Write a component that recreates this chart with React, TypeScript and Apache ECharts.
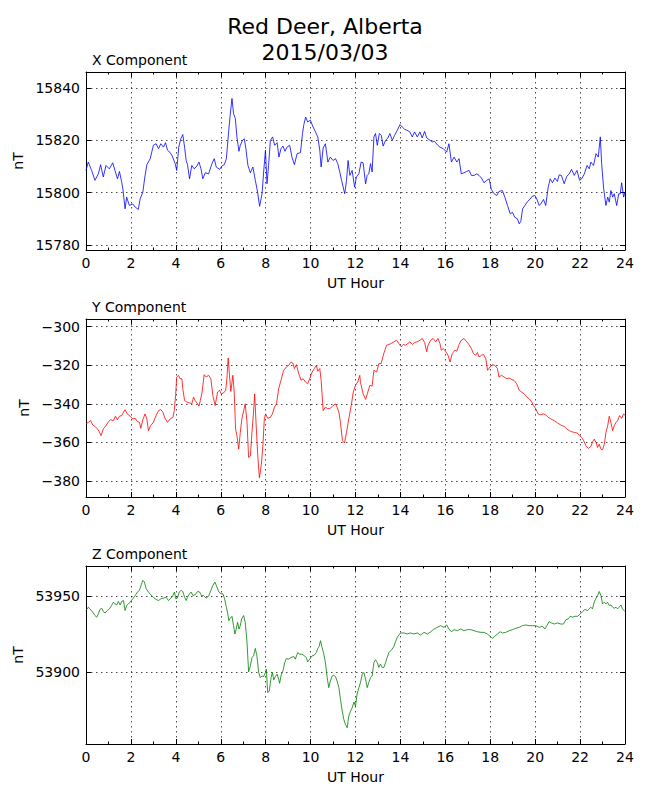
import React, { useEffect, useRef } from "react";
import * as echarts from "echarts";

// [UT hour, nT] readings
const xComponent: [number, number][] = [
  [0.0, 15808.5], [0.1, 15811.7], [0.25, 15808.5], [0.4, 15804.7], [0.55, 15807.2], [0.65, 15810.7], [0.77, 15806.0], [0.89, 15810.4],
  [1.04, 15809.1], [1.19, 15811.4], [1.29, 15808.5], [1.4, 15805.3], [1.49, 15808.1], [1.59, 15804.0], [1.64, 15801.5], [1.74, 15793.8],
  [1.81, 15798.3], [1.93, 15795.1], [2.08, 15795.7], [2.19, 15794.5], [2.33, 15793.6], [2.41, 15797.6], [2.53, 15800.2], [2.63, 15806.6],
  [2.71, 15810.7], [2.86, 15813.0], [3.0, 15818.1], [3.12, 15818.7], [3.23, 15816.8], [3.33, 15818.7], [3.45, 15817.4], [3.54, 15819.1],
  [3.63, 15816.2], [3.75, 15815.3], [3.84, 15814.0], [3.97, 15811.1], [4.04, 15808.5], [4.13, 15817.4], [4.22, 15820.6], [4.31, 15822.2],
  [4.39, 15817.4], [4.46, 15812.3], [4.52, 15810.7], [4.61, 15805.3], [4.71, 15810.4], [4.82, 15809.1], [4.94, 15810.2], [5.03, 15811.7],
  [5.12, 15809.1], [5.2, 15805.3], [5.31, 15807.6], [5.46, 15807.2], [5.61, 15811.1], [5.71, 15813.0], [5.8, 15809.8], [5.95, 15808.9],
  [6.05, 15810.2], [6.16, 15810.7], [6.25, 15813.0], [6.35, 15823.2], [6.42, 15829.6], [6.5, 15836.0], [6.57, 15830.2], [6.65, 15828.3],
  [6.72, 15821.3], [6.81, 15815.8], [6.87, 15818.1], [6.97, 15820.0], [7.05, 15820.6], [7.12, 15816.8], [7.21, 15810.4], [7.32, 15807.6],
  [7.43, 15809.8], [7.54, 15804.7], [7.64, 15800.2], [7.73, 15794.8], [7.84, 15799.6], [7.91, 15807.9], [7.99, 15816.2], [8.06, 15803.4],
  [8.13, 15810.4], [8.21, 15820.0], [8.31, 15821.3], [8.4, 15818.1], [8.51, 15819.1], [8.59, 15813.6], [8.68, 15816.8], [8.77, 15817.8],
  [8.86, 15815.8], [8.95, 15817.4], [9.07, 15818.1], [9.17, 15813.6], [9.28, 15810.7], [9.4, 15814.9], [9.55, 15815.3], [9.64, 15822.6],
  [9.7, 15826.0], [9.78, 15828.9], [9.87, 15827.0], [9.99, 15827.7], [10.11, 15825.1], [10.22, 15823.2], [10.32, 15821.3], [10.41, 15816.2],
  [10.47, 15809.8], [10.56, 15817.1], [10.66, 15818.7], [10.77, 15811.7], [10.88, 15813.6], [11.0, 15812.3], [11.11, 15813.0], [11.21, 15811.1],
  [11.3, 15807.9], [11.38, 15804.7], [11.52, 15799.6], [11.6, 15804.7], [11.67, 15812.3], [11.75, 15806.6], [11.85, 15808.5], [11.96, 15802.1],
  [12.04, 15806.0], [12.15, 15807.2], [12.25, 15811.7], [12.34, 15811.4], [12.45, 15803.4], [12.52, 15806.6], [12.59, 15807.2], [12.67, 15811.1],
  [12.74, 15807.9], [12.82, 15821.3], [12.89, 15822.6], [12.97, 15818.1], [13.06, 15822.6], [13.15, 15821.9], [13.23, 15817.8], [13.34, 15820.0],
  [13.44, 15820.9], [13.53, 15822.6], [13.64, 15820.0], [13.74, 15821.9], [13.86, 15823.8], [13.98, 15826.0], [14.08, 15825.1], [14.19, 15824.2],
  [14.3, 15823.8], [14.42, 15823.2], [14.53, 15821.3], [14.63, 15823.2], [14.75, 15821.3], [14.87, 15823.2], [14.97, 15820.9], [15.08, 15823.4],
  [15.17, 15820.9], [15.32, 15820.0], [15.42, 15819.4], [15.52, 15819.6], [15.64, 15818.3], [15.76, 15817.4], [15.91, 15816.8], [16.06, 15815.5],
  [16.16, 15818.7], [16.27, 15811.7], [16.39, 15813.6], [16.51, 15811.7], [16.61, 15813.0], [16.71, 15807.2], [16.83, 15807.6], [16.95, 15808.1],
  [17.06, 15808.5], [17.16, 15806.6], [17.28, 15806.6], [17.4, 15807.2], [17.5, 15806.6], [17.61, 15805.6], [17.72, 15803.8], [17.84, 15804.7],
  [17.95, 15805.3], [18.05, 15801.2], [18.17, 15799.6], [18.29, 15798.9], [18.39, 15800.5], [18.54, 15800.8], [18.65, 15798.3], [18.77, 15795.1],
  [18.89, 15791.9], [18.99, 15792.5], [19.09, 15790.6], [19.21, 15790.0], [19.29, 15788.1], [19.36, 15789.0], [19.44, 15793.8], [19.54, 15795.1],
  [19.66, 15796.6], [19.78, 15797.6], [19.88, 15798.7], [19.99, 15798.9], [20.07, 15797.6], [20.18, 15795.1], [20.25, 15795.7], [20.37, 15797.4],
  [20.47, 15795.1], [20.58, 15802.1], [20.67, 15805.3], [20.77, 15803.8], [20.88, 15805.6], [20.99, 15804.3], [21.07, 15806.8], [21.17, 15806.6],
  [21.29, 15803.4], [21.41, 15806.3], [21.52, 15807.2], [21.62, 15808.9], [21.74, 15806.6], [21.86, 15808.5], [21.98, 15804.7], [22.07, 15805.3],
  [22.19, 15807.2], [22.31, 15810.4], [22.41, 15809.1], [22.48, 15811.7], [22.6, 15810.4], [22.71, 15814.9], [22.81, 15813.6], [22.9, 15821.3],
  [22.96, 15811.1], [23.05, 15801.5], [23.15, 15795.1], [23.23, 15798.3], [23.3, 15796.4], [23.37, 15800.8], [23.45, 15798.3], [23.52, 15799.6],
  [23.63, 15795.1], [23.72, 15799.6], [23.79, 15799.6], [23.85, 15803.8], [23.94, 15798.3], [24.0, 15800.2],
];

const yComponent: [number, number][] = [
  [0.0, -350.4], [0.1, -349.6], [0.21, -348.7], [0.3, -351.0], [0.4, -351.7], [0.51, -353.0], [0.59, -354.4], [0.67, -356.5],
  [0.77, -353.0], [0.89, -351.3], [1.0, -349.2], [1.1, -348.2], [1.22, -348.7], [1.31, -346.4], [1.4, -348.2], [1.49, -346.4],
  [1.59, -346.1], [1.67, -344.3], [1.74, -343.0], [1.84, -345.2], [1.96, -346.4], [2.08, -347.8], [2.19, -347.5], [2.29, -349.2],
  [2.38, -349.6], [2.44, -352.7], [2.53, -348.2], [2.63, -345.2], [2.71, -347.8], [2.78, -353.9], [2.88, -351.3], [3.0, -349.6],
  [3.12, -346.1], [3.23, -343.5], [3.33, -343.0], [3.42, -344.3], [3.52, -347.5], [3.63, -349.6], [3.75, -347.8], [3.87, -347.0],
  [3.93, -343.5], [3.99, -335.7], [4.04, -326.1], [4.12, -325.2], [4.19, -327.0], [4.27, -327.0], [4.31, -332.2], [4.39, -338.3],
  [4.49, -339.1], [4.61, -339.5], [4.71, -340.0], [4.79, -336.5], [4.86, -338.3], [4.97, -340.0], [5.03, -341.2], [5.09, -338.3],
  [5.17, -333.9], [5.26, -324.9], [5.35, -326.1], [5.46, -325.2], [5.56, -327.0], [5.65, -335.7], [5.75, -340.9], [5.86, -333.9],
  [5.95, -333.0], [6.02, -334.8], [6.13, -334.3], [6.22, -333.0], [6.28, -326.1], [6.33, -316.2], [6.39, -325.2], [6.45, -333.6],
  [6.54, -325.2], [6.6, -333.9], [6.66, -353.0], [6.72, -356.5], [6.8, -363.5], [6.87, -354.8], [6.94, -347.8], [7.02, -343.5],
  [7.09, -340.0], [7.17, -349.6], [7.24, -367.8], [7.32, -367.0], [7.39, -354.8], [7.46, -344.3], [7.51, -334.8], [7.57, -349.6],
  [7.64, -365.2], [7.72, -378.3], [7.81, -371.3], [7.88, -360.9], [7.94, -347.8], [8.0, -345.2], [8.09, -347.5], [8.21, -347.0],
  [8.3, -345.2], [8.39, -341.7], [8.48, -340.0], [8.58, -332.2], [8.68, -327.8], [8.8, -322.6], [8.92, -320.9], [9.03, -320.0],
  [9.13, -318.3], [9.22, -319.1], [9.28, -321.7], [9.37, -319.7], [9.47, -324.3], [9.58, -327.8], [9.67, -327.0], [9.77, -328.7],
  [9.87, -329.6], [9.96, -327.0], [10.07, -323.5], [10.17, -321.7], [10.26, -320.0], [10.32, -323.1], [10.41, -321.7], [10.47, -327.8],
  [10.56, -343.5], [10.66, -341.7], [10.77, -342.6], [10.88, -342.3], [11.0, -340.9], [11.11, -340.0], [11.18, -341.7], [11.26, -344.3],
  [11.33, -349.6], [11.42, -359.1], [11.51, -360.3], [11.6, -354.8], [11.7, -347.8], [11.81, -340.9], [11.9, -333.9], [12.0, -330.4],
  [12.1, -328.7], [12.19, -325.2], [12.22, -328.7], [12.34, -334.8], [12.45, -337.7], [12.55, -333.9], [12.64, -330.4], [12.74, -330.8],
  [12.82, -322.6], [12.94, -323.5], [13.04, -319.1], [13.14, -319.1], [13.26, -313.9], [13.38, -309.6], [13.49, -309.2], [13.59, -308.7],
  [13.71, -307.8], [13.83, -307.0], [13.93, -308.7], [14.04, -310.4], [14.13, -309.2], [14.23, -309.6], [14.33, -308.7], [14.42, -307.8],
  [14.53, -309.2], [14.63, -308.2], [14.75, -307.8], [14.87, -307.0], [14.97, -306.1], [15.08, -308.2], [15.17, -313.0], [15.23, -309.6],
  [15.35, -307.0], [15.46, -306.1], [15.57, -307.8], [15.67, -306.1], [15.76, -308.7], [15.82, -312.2], [15.91, -311.3], [16.01, -312.7],
  [16.12, -314.8], [16.21, -318.3], [16.31, -313.9], [16.42, -312.2], [16.51, -312.7], [16.61, -309.2], [16.71, -307.0], [16.83, -306.1],
  [16.95, -307.8], [17.05, -309.2], [17.16, -311.3], [17.25, -313.9], [17.35, -314.8], [17.43, -313.4], [17.5, -315.7], [17.61, -314.8],
  [17.7, -314.4], [17.8, -316.5], [17.88, -322.6], [17.99, -320.9], [18.1, -319.7], [18.2, -320.0], [18.32, -321.7], [18.39, -326.1],
  [18.5, -325.2], [18.62, -326.1], [18.74, -327.0], [18.84, -326.6], [18.94, -327.3], [19.06, -327.8], [19.18, -329.6], [19.29, -333.0],
  [19.39, -333.9], [19.51, -334.8], [19.63, -336.5], [19.73, -337.4], [19.84, -338.8], [19.92, -340.9], [20.03, -342.6], [20.13, -345.2],
  [20.25, -345.7], [20.37, -345.2], [20.47, -345.7], [20.58, -347.0], [20.7, -347.8], [20.85, -348.7], [21.0, -349.9], [21.14, -351.0],
  [21.29, -351.7], [21.41, -353.0], [21.52, -353.9], [21.62, -354.4], [21.74, -354.8], [21.86, -355.1], [21.96, -356.2], [22.07, -357.4],
  [22.16, -359.1], [22.26, -361.7], [22.37, -363.1], [22.48, -362.1], [22.56, -359.7], [22.63, -358.3], [22.71, -360.0], [22.78, -362.6],
  [22.85, -360.9], [22.93, -363.5], [23.0, -363.8], [23.08, -360.9], [23.15, -354.8], [23.23, -351.3], [23.3, -346.4], [23.37, -349.6],
  [23.45, -353.9], [23.52, -351.3], [23.6, -349.6], [23.67, -348.7], [23.76, -346.1], [23.85, -347.5], [23.94, -345.2], [24.0, -346.1],
];

const zComponent: [number, number][] = [
  [0.0, 53940.5], [0.1, 53942.7], [0.18, 53941.6], [0.3, 53939.4], [0.4, 53937.2], [0.48, 53936.1], [0.55, 53938.3], [0.62, 53941.2],
  [0.7, 53942.0], [0.77, 53939.8], [0.85, 53938.9], [0.95, 53940.5], [1.04, 53941.6], [1.14, 53943.8], [1.22, 53946.0], [1.29, 53944.9],
  [1.37, 53944.2], [1.44, 53946.5], [1.52, 53944.2], [1.59, 53946.5], [1.67, 53947.1], [1.74, 53940.5], [1.81, 53943.8], [1.89, 53944.9],
  [1.96, 53946.0], [2.08, 53948.2], [2.19, 53950.4], [2.29, 53952.7], [2.38, 53953.8], [2.45, 53957.1], [2.53, 53960.4], [2.6, 53959.3],
  [2.68, 53954.9], [2.78, 53952.7], [2.88, 53950.9], [3.0, 53949.3], [3.12, 53947.8], [3.23, 53947.1], [3.33, 53948.2], [3.45, 53948.7],
  [3.57, 53949.3], [3.67, 53947.1], [3.78, 53948.7], [3.87, 53950.4], [3.94, 53952.7], [4.0, 53948.2], [4.07, 53948.7], [4.15, 53952.7],
  [4.24, 53953.8], [4.31, 53953.1], [4.39, 53949.3], [4.46, 53947.1], [4.52, 53949.3], [4.61, 53951.5], [4.68, 53952.7], [4.76, 53950.4],
  [4.86, 53950.9], [4.97, 53953.1], [5.06, 53952.7], [5.14, 53950.4], [5.23, 53950.4], [5.35, 53948.7], [5.46, 53950.0], [5.56, 53953.8],
  [5.65, 53957.1], [5.74, 53959.3], [5.83, 53956.0], [5.92, 53952.7], [6.01, 53951.5], [6.1, 53951.5], [6.17, 53948.2], [6.25, 53942.7],
  [6.3, 53939.4], [6.36, 53933.8], [6.42, 53935.4], [6.5, 53936.7], [6.57, 53930.5], [6.63, 53925.0], [6.69, 53928.3], [6.75, 53932.7],
  [6.81, 53928.3], [6.87, 53930.5], [6.93, 53935.0], [7.02, 53937.2], [7.09, 53932.7], [7.17, 53919.5], [7.24, 53900.0], [7.32, 53904.0],
  [7.39, 53909.5], [7.46, 53910.6], [7.54, 53915.5], [7.61, 53910.6], [7.69, 53899.6], [7.76, 53896.2], [7.84, 53897.3], [7.91, 53896.9],
  [7.99, 53899.6], [8.03, 53901.8], [8.09, 53886.3], [8.16, 53887.4], [8.24, 53896.2], [8.3, 53899.6], [8.36, 53894.7], [8.43, 53896.9],
  [8.51, 53898.5], [8.58, 53895.1], [8.62, 53892.5], [8.7, 53898.5], [8.77, 53900.7], [8.85, 53906.2], [8.92, 53908.8], [9.03, 53908.4],
  [9.13, 53909.5], [9.25, 53910.2], [9.32, 53908.4], [9.43, 53912.8], [9.52, 53911.7], [9.62, 53911.7], [9.72, 53910.6], [9.81, 53909.5],
  [9.87, 53906.6], [9.96, 53908.4], [10.07, 53910.6], [10.17, 53911.1], [10.26, 53912.8], [10.32, 53915.5], [10.38, 53916.8], [10.44, 53920.6],
  [10.51, 53916.2], [10.59, 53911.7], [10.66, 53906.2], [10.74, 53896.2], [10.81, 53889.6], [10.88, 53894.0], [10.96, 53897.3], [11.03, 53897.8],
  [11.11, 53896.9], [11.18, 53894.0], [11.26, 53889.6], [11.33, 53881.9], [11.41, 53874.1], [11.48, 53868.6], [11.55, 53865.3], [11.63, 53863.1],
  [11.7, 53870.8], [11.78, 53874.1], [11.85, 53876.3], [11.93, 53880.1], [12.0, 53877.4], [12.07, 53885.2], [12.15, 53889.6], [12.22, 53892.9],
  [12.3, 53898.5], [12.37, 53899.6], [12.45, 53895.1], [12.52, 53889.6], [12.59, 53892.9], [12.67, 53896.2], [12.74, 53897.3], [12.82, 53906.2],
  [12.89, 53908.0], [12.97, 53906.2], [13.04, 53902.9], [13.11, 53905.1], [13.19, 53902.9], [13.26, 53902.9], [13.34, 53906.2], [13.41, 53909.5],
  [13.49, 53912.8], [13.56, 53913.9], [13.63, 53915.0], [13.71, 53916.8], [13.78, 53919.9], [13.86, 53922.8], [13.93, 53924.3], [14.01, 53925.7],
  [14.16, 53925.7], [14.3, 53925.0], [14.45, 53925.7], [14.6, 53925.0], [14.75, 53925.7], [14.9, 53924.3], [15.05, 53926.1], [15.2, 53925.0],
  [15.35, 53926.5], [15.49, 53928.3], [15.64, 53929.4], [15.79, 53930.5], [15.94, 53929.4], [16.06, 53931.0], [16.16, 53928.3], [16.27, 53926.5],
  [16.39, 53927.9], [16.54, 53927.2], [16.68, 53928.3], [16.83, 53927.2], [16.98, 53927.9], [17.13, 53927.9], [17.28, 53927.2], [17.43, 53926.5],
  [17.58, 53926.1], [17.72, 53926.1], [17.87, 53925.0], [17.99, 53923.5], [18.1, 53922.1], [18.2, 53923.5], [18.32, 53925.0], [18.44, 53926.5],
  [18.55, 53925.7], [18.69, 53926.1], [18.84, 53927.2], [18.99, 53927.9], [19.14, 53928.8], [19.29, 53929.4], [19.43, 53930.5], [19.58, 53931.0],
  [19.73, 53930.5], [19.88, 53930.5], [20.03, 53930.5], [20.18, 53929.4], [20.33, 53930.1], [20.43, 53928.3], [20.52, 53930.5], [20.62, 53933.2],
  [20.73, 53932.3], [20.85, 53931.6], [20.99, 53932.3], [21.14, 53931.6], [21.26, 53931.6], [21.37, 53934.5], [21.47, 53935.0], [21.56, 53936.7],
  [21.67, 53936.1], [21.77, 53936.7], [21.89, 53936.7], [22.01, 53938.3], [22.11, 53939.8], [22.21, 53941.2], [22.33, 53940.5], [22.41, 53941.6],
  [22.48, 53942.7], [22.55, 53941.6], [22.63, 53946.0], [22.71, 53948.7], [22.78, 53950.4], [22.85, 53953.1], [22.93, 53950.4], [23.0, 53944.9],
  [23.07, 53946.0], [23.15, 53944.9], [23.22, 53946.0], [23.3, 53943.8], [23.37, 53944.2], [23.45, 53942.7], [23.52, 53942.0], [23.6, 53942.7],
  [23.67, 53941.6], [23.74, 53942.7], [23.82, 53944.2], [23.89, 53941.6], [24.0, 53939.8],
];

const xTicks = [15780, 15800, 15820, 15840];
const yTicks = [-380, -360, -340, -320, -300];
const zTicks = [53900, 53950];

const xRange = [15778.1, 15846.1];
const yRange = [-388.3, -296.0];
const zRange = [53852.4, 53969.9];

const panelTitles = ["X Component", "Y Component", "Z Component"];
const titleLines = ["Red Deer, Alberta", "2015/03/03"];
const lineColors = ["#0000ff", "#ff0000", "#008000"];
const xAxisLabel = "UT Hour";
const yAxisLabel = "nT";

const FONT = "DejaVu Sans";
const GRID_TOPS = [72, 319, 566];
const GRID_H = 178;
const GRID_LEFT = 86;
const GRID_RIGHT = 25;

export default function App() {
  const ref = useRef<HTMLDivElement>(null);

  useEffect(() => {
    if (!ref.current) return;
    const chart = echarts.init(ref.current, null, { renderer: "svg" });

    const series = [xComponent, yComponent, zComponent];
    const ticks = [xTicks, yTicks, zTicks];
    const ranges = [xRange, yRange, zRange];

    const axisLine = { show: true, onZero: false, lineStyle: { color: "#000", width: 1 } };
    const gridLine = { show: true, lineStyle: { color: "#000", width: 0.7, type: [1.5, 3.5] } };
    const labelStyle = { color: "#000", fontSize: 14, fontFamily: FONT };
    const minus = (v: number) => String(v).replace("-", "\u2212");

    const grid: any[] = [];
    const xAxis: any[] = [];
    const yAxis: any[] = [];
    const seriesOpts: any[] = [];

    for (let i = 0; i < 3; i++) {
      grid.push({ left: GRID_LEFT, right: GRID_RIGHT, top: GRID_TOPS[i], height: GRID_H });
      const xBase = {
        gridIndex: i,
        type: "value",
        min: 0,
        max: 24,
        interval: 2,
        axisLine,
        axisTick: { show: true, inside: true, length: 5, lineStyle: { color: "#000", width: 1 } },
        minorTick: { show: true, splitNumber: 2, length: 2.5, lineStyle: { color: "#000", width: 1 } },
      };
      xAxis.push({
        ...xBase,
        position: "bottom",
        axisLabel: { show: true, margin: 6, ...labelStyle },
        splitLine: gridLine,
        name: xAxisLabel,
        nameLocation: "middle",
        nameGap: 26,
        nameTextStyle: labelStyle,
      });
      xAxis.push({
        ...xBase,
        position: "top",
        axisLabel: { show: false },
        splitLine: { show: false },
      });
      const yBase = {
        gridIndex: i,
        type: "value",
        min: ranges[i][0],
        max: ranges[i][1],
        axisLine,
        axisTick: { show: true, inside: true, length: 5, customValues: ticks[i], lineStyle: { color: "#000", width: 1 } },
      };
      yAxis.push({
        ...yBase,
        position: "left",
        axisLabel: { show: true, margin: 6, customValues: ticks[i], formatter: minus, ...labelStyle },
        splitLine: gridLine,
        name: yAxisLabel,
        nameLocation: "middle",
        nameGap: 55,
        nameRotate: 90,
        nameTextStyle: labelStyle,
      });
      yAxis.push({
        ...yBase,
        position: "right",
        axisLabel: { show: false },
        splitLine: { show: false },
      });
      seriesOpts.push({
        type: "line",
        xAxisIndex: i * 2,
        yAxisIndex: i * 2,
        data: series[i],
        showSymbol: false,
        symbol: "none",
        lineStyle: { color: lineColors[i], width: 0.8 },
        z: 3,
      });
    }

    const graphic: any[] = [
      { type: "text", x: 325, y: 26.5, style: { text: titleLines[0], fontSize: 22, fontFamily: FONT, fill: "#000", align: "center", verticalAlign: "middle" } },
      { type: "text", x: 325, y: 52, style: { text: titleLines[1], fontSize: 22, fontFamily: FONT, fill: "#000", align: "center", verticalAlign: "middle" } },
    ];
    for (let i = 0; i < 3; i++) {
      graphic.push({
        type: "text",
        x: 92,
        y: GRID_TOPS[i] - 12,
        style: { text: panelTitles[i], fontSize: 14, fontFamily: FONT, fill: "#000", align: "left", verticalAlign: "middle" },
      });
    }

    chart.setOption({
      animation: false,
      backgroundColor: "#fff",
      grid,
      xAxis,
      yAxis,
      series: seriesOpts,
      graphic,
    });

    return () => chart.dispose();
  }, []);

  return (
    <div
      ref={ref}
      style={{ position: "absolute", left: 0, top: 0, width: 650, height: 800, background: "#fff" }}
    />
  );
}
